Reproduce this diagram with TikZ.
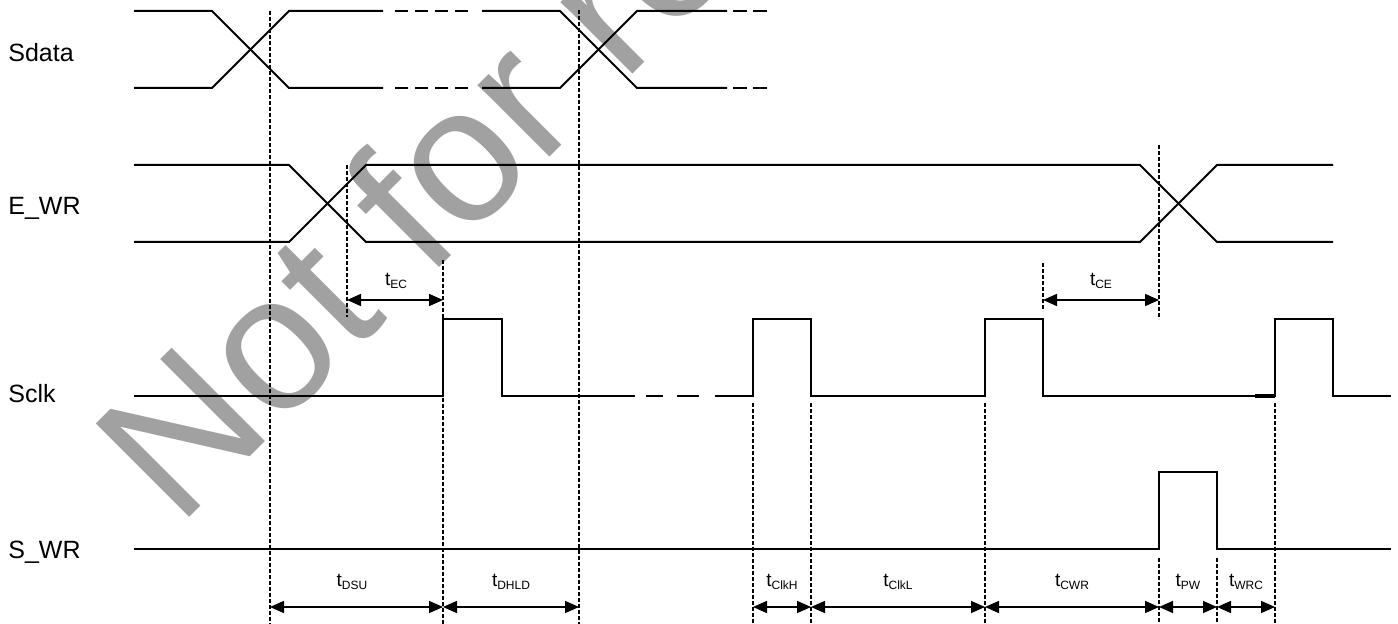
\documentclass[tikz,border=0pt]{standalone}
\usepackage{fontspec}
\setmainfont{Liberation Sans}
\usetikzlibrary{arrows.meta}
\newcommand\tlab[1]{t\raisebox{-1.3pt}{\fontsize{6}{7}\selectfont #1}}
\begin{document}
\begin{tikzpicture}[x=0.5pt,y=-0.5pt,
  sig/.style={line width=1pt,line join=miter},
  guide/.style={line width=0.7pt,dash pattern=on 2pt off 1pt},
  dim/.style={line width=0.75pt,{Triangle[length=7pt,width=6pt]}-{Triangle[length=7pt,width=6pt]}},
  lab/.style={font=\fontsize{12.5}{15}\selectfont,anchor=base west,inner sep=0},
  tl/.style={font=\fontsize{9.5}{11}\selectfont,anchor=base,inner sep=0},
  wmark/.style={rotate=45,anchor=base west,inner sep=0,text=black!37,font=\fontsize{96}{100}\selectfont}]
\useasboundingbox (0,0) rectangle (1398,624);
\clip (0,0) rectangle (1398,624);
\fill[white] (0,0) rectangle (1398,624);
% watermark
\node[wmark] (wm) at (178,529) {Not for release};
% signal names
\node[lab] (nSdata) at (8,62) {Sdata};
\node[lab] (nEWR) at (8,215) {E\_WR};
\node[lab] (nSclk) at (8,403) {Sclk};
\node[lab] (nSWR) at (8,559) {S\_WR};
% Sdata
\draw[sig] (134,11) -- (212,11) -- (289,88) -- (383,88);
\draw[sig] (134,88) -- (212,88) -- (289,11) -- (383,11);
\foreach \a in {395,415,435,455} {
  \draw[sig] (\a,11) -- ++(13,0);
  \draw[sig] (\a,88) -- ++(13,0);
}
\draw[sig] (482,11) -- (560,11) -- (637,88) -- (727,88);
\draw[sig] (482,88) -- (560,88) -- (637,11) -- (727,11);
\foreach \a in {733,753} {
  \draw[sig] (\a,11) -- ++(14,0);
  \draw[sig] (\a,88) -- ++(14,0);
}
% E_WR
\draw[sig] (134,165) -- (289,165) -- (366,242) -- (1140,242) -- (1217,165) -- (1333,165);
\draw[sig] (134,242) -- (289,242) -- (366,165) -- (1140,165) -- (1217,242) -- (1333,242);
% Sclk
\draw[sig] (134,396) -- (443,396) -- (443,319) -- (502,319) -- (502,396) -- (635,396);
\draw[sig] (646,396) -- (663,396);
\draw[sig] (677,396) -- (699,396);
\draw[sig] (715,396) -- (753,396) -- (753,319) -- (811,319) -- (811,396) -- (985,396) -- (985,319)
  -- (1043,319) -- (1043,396) -- (1275,396) -- (1275,319) -- (1333,319) -- (1333,396) -- (1391,396);
\draw[line width=1.6pt] (1255,396) -- (1275,396);
% S_WR
\draw[sig] (134,549) -- (1159,549) -- (1159,472) -- (1217,472) -- (1217,549) -- (1391,549);
% guide lines
\coordinate (g1) at (270,607);
\coordinate (g2) at (443,607);
\coordinate (g3) at (579,607);
\coordinate (g4) at (753,607);
\coordinate (g5) at (811,607);
\coordinate (g6) at (985,607);
\coordinate (g7) at (1159,607);
\coordinate (g8) at (1217,607);
\coordinate (g9) at (1275,607);
\coordinate (e1) at (347,300);
\coordinate (e2) at (443,300);
\coordinate (c1) at (1043,300);
\coordinate (c2) at (1159,300);
\draw[guide] (270,11) -- (270,624);
\draw[guide] (579,10) -- (579,624);
\draw[guide] (347,165) -- (347,317);
\draw[guide] (443,260) -- (443,624);
\foreach \x in {753,811,985,1275} \draw[guide] (\x,403) -- (\x,624);
\draw[guide] (1043,263) -- (1043,311);
\draw[guide] (1159,145) -- (1159,319);
\draw[guide] (1159,558) -- (1159,624);
\draw[guide] (1217,558) -- (1217,624);
% dimension arrows
\draw[dim] (e1) -- (e2);
\draw[dim] (c1) -- (c2);
\draw[dim] (g1) -- (g2);
\draw[dim] (g2) -- (g3);
\draw[dim] (g4) -- (g5);
\draw[dim] (g5) -- (g6);
\draw[dim] (g6) -- (g7);
\draw[dim] (g7) -- (g8);
\draw[dim] (g8) -- (g9);
% timing labels
\node[tl] (lEC) at (396,286) {\tlab{EC}};
\node[tl] (lCE) at (1101,286) {\tlab{CE}};
\node[tl] (lDSU) at (352,587) {\tlab{DSU}};
\node[tl] (lDHLD) at (511,587) {\tlab{DHLD}};
\node[tl] (lClkH) at (782,587) {\tlab{ClkH}};
\node[tl] (lClkL) at (898,587) {\tlab{ClkL}};
\node[tl] (lCWR) at (1072,587) {\tlab{CWR}};
\node[tl] (lPW) at (1188,587) {\tlab{PW}};
\node[tl] (lWRC) at (1246,587) {\tlab{WRC}};
\end{tikzpicture}
\end{document}
